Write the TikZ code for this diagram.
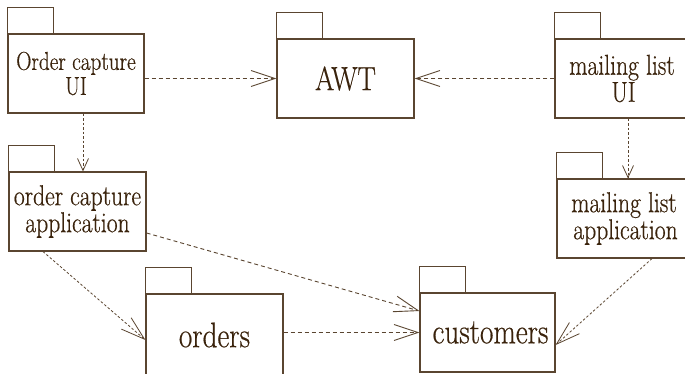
\documentclass[tikz,border=0pt]{standalone}
\usepackage{fontspec}
\newfontfamily\pkgserif[FakeStretch=0.82,FakeBold=0.5]{Latin Modern Roman}
\usetikzlibrary{arrows.meta}
\definecolor{ln}{HTML}{5A4530}
\definecolor{tx}{HTML}{3A230C}
\begin{document}
\begin{tikzpicture}[x=1pt,y=-1pt,
  pkg/.style={draw=ln, line width=1.1pt, minimum width=137pt, minimum height=79pt, inner sep=0pt, align=center, text=tx},
  tabbox/.style={draw=ln, line width=1.1pt},
  dep/.style={draw=ln, line width=0.9pt, dash pattern=on 4pt off 3pt, -{Straight Barb[length=24pt,width=16pt]}},
  depfine/.style={draw=ln, line width=0.8pt, dash pattern=on 2.5pt off 2pt, -{Straight Barb[length=24pt,width=15pt]}},
  depsmall/.style={draw=ln, line width=0.8pt, dash pattern=on 2.5pt off 2pt, -{Straight Barb[length=12pt,width=11pt]}},
  fa/.style={font=\pkgserif\fontsize{25.8}{25}\selectfont},
  fb/.style={font=\pkgserif\fontsize{28.8}{27}\selectfont},
  fc/.style={font=\pkgserif\fontsize{33.5}{33}\selectfont},
  fd/.style={font=\pkgserif\fontsize{35.5}{35}\selectfont}
]
\clip (0,0) rectangle (685,373);
\fill[white] (0,0) rectangle (685,373);

\node[pkg, fa, minimum width=136pt] (ocui) at (76,73.5) {Order capture\\UI};
\node[pkg, fc] (awt) at (345.5,78.5) {AWT};
\node[pkg, fb] (mlui) at (623.5,78.5) {\hspace*{-3pt}mailing list\\UI};
\node[pkg, fb] (ocapp) at (77.5,211.5) {order capture\\application};
\node[pkg, fb] (mlapp) at (625.5,218.5) {\hspace*{-3pt}mailing list\\application};
\node[pkg, fd, minimum height=82pt] (orders) at (214.5,335) {orders};
\node[pkg, fd, minimum width=135pt] (cust) at (487.5,332.5) {\hspace*{6pt}customers};

\foreach \n in {ocui,awt,mlui,ocapp,mlapp,orders,cust}
  \draw[tabbox] (\n.north west) rectangle ++(46,-26);

\draw[dep] (ocui.east |- awt.west) -- (awt.west);
\draw[dep] (mlui.west) -- (awt.east);
\draw[depsmall] ([xshift=7pt]ocui.south) -- ([xshift=5.5pt]ocapp.north);
\draw[depsmall] ([xshift=4.5pt]mlui.south) -- ([xshift=2.5pt]mlapp.north);
\draw[depfine] ([xshift=-34.5pt]ocapp.south) -- ([yshift=-5pt]orders.west);
\draw[dep] ([yshift=-21.5pt]ocapp.east) -- ([yshift=21.5pt]cust.west);
\draw[dep] (orders.east |- cust.west) -- (cust.west);
\draw[depfine] ([xshift=26.5pt]mlapp.south) -- ([yshift=-12.5pt]cust.east);
\end{tikzpicture}
\end{document}
